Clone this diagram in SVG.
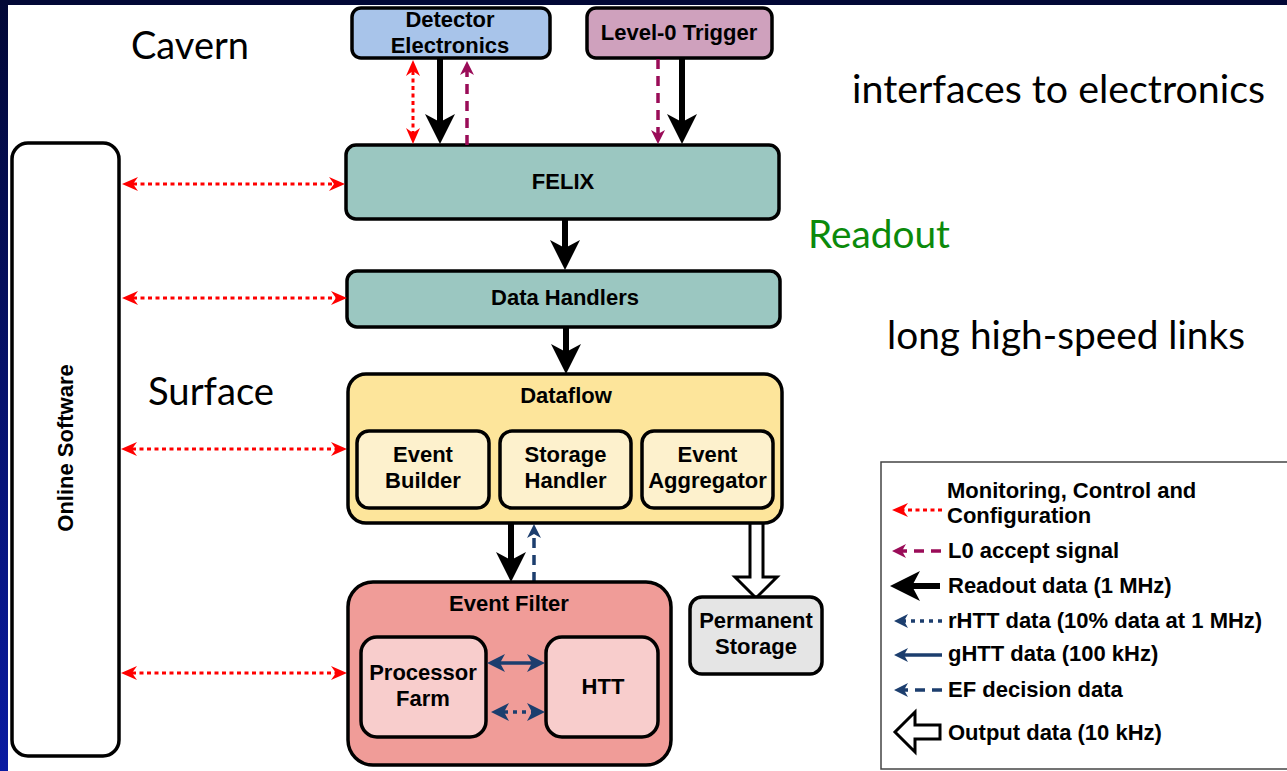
<svg xmlns="http://www.w3.org/2000/svg" width="1287" height="771" viewBox="0 0 1287 771">
<style>
.box{stroke:#000;stroke-width:3.5}
.lbl{font-family:"Liberation Sans",Arial,Helvetica,sans-serif;font-weight:bold;font-size:22px;fill:#000;text-anchor:middle}
.leg{font-family:"Liberation Sans",Arial,Helvetica,sans-serif;font-weight:bold;font-size:22px;fill:#000}
.big{font-family:Lato,"Open Sans",sans-serif;font-size:39px;fill:#000}
.red{stroke:#ff0000;stroke-width:3;stroke-dasharray:4 3.5;fill:none}
.pur{stroke:#9a0c58;stroke-width:3.5;stroke-dasharray:10 7;fill:none}
.blk{stroke:#000;stroke-width:6;fill:none}
.nav{stroke:#1c3e6e;stroke-width:3.5;fill:none}
.navdash{stroke:#1c3e6e;stroke-width:3.5;stroke-dasharray:10 7;fill:none}
.navdot{stroke:#1c3e6e;stroke-width:3.5;stroke-dasharray:4 5;fill:none}
</style>
<defs>
<linearGradient id="band" x1="0" y1="0" x2="0" y2="1">
<stop offset="0" stop-color="#020836"/>
<stop offset="1" stop-color="#0a1ba2"/>
</linearGradient>
<marker id="hBlack" viewBox="0 0 30 30" refX="8" refY="15" markerWidth="30" markerHeight="30" markerUnits="userSpaceOnUse" orient="auto"><path d="M0,0 L30,15 L0,30 L8,15 z" fill="#000"/></marker>
<marker id="hRed" viewBox="0 0 16 14" refX="5" refY="7" markerWidth="16" markerHeight="14" markerUnits="userSpaceOnUse" orient="auto-start-reverse"><path d="M0,0 L16,7 L0,14 L5,7 z" fill="#ff0000"/></marker>
<marker id="hPur" viewBox="0 0 14 14" refX="4" refY="7" markerWidth="14" markerHeight="14" markerUnits="userSpaceOnUse" orient="auto"><path d="M0,0 L14,7 L0,14 L4,7 z" fill="#9a0c58"/></marker>
<marker id="hNavy" viewBox="0 0 18 18" refX="5" refY="9" markerWidth="18" markerHeight="18" markerUnits="userSpaceOnUse" orient="auto-start-reverse"><path d="M0,0 L18,9 L0,18 L5,9 z" fill="#1c3e6e"/></marker>
<marker id="hNavyS" viewBox="0 0 14 14" refX="4" refY="7" markerWidth="14" markerHeight="14" markerUnits="userSpaceOnUse" orient="auto"><path d="M0,0 L14,7 L0,14 L4,7 z" fill="#1c3e6e"/></marker>
</defs>

<rect x="0" y="0" width="1287" height="771" fill="#fff"/>
<rect x="0" y="0" width="1287" height="5" fill="#020836"/>
<rect x="0" y="0" width="8" height="771" fill="url(#band)"/>

<g id="region-labels">
<text class="big" x="131" y="59" textLength="118" lengthAdjust="spacingAndGlyphs">Cavern</text>
<text class="big" x="852" y="103" textLength="413" lengthAdjust="spacingAndGlyphs">interfaces to electronics</text>
<text class="big" x="808" y="248" textLength="142" lengthAdjust="spacingAndGlyphs" style="fill:#0b8a0b">Readout</text>
<text class="big" x="887" y="349" textLength="358" lengthAdjust="spacingAndGlyphs">long high-speed links</text>
<text class="big" x="148" y="405" textLength="126" lengthAdjust="spacingAndGlyphs">Surface</text>
</g>

<g id="online-software">
<rect class="box" x="12" y="143" width="107" height="613" rx="16" fill="#fff"/>
<text class="lbl" transform="translate(73,448) rotate(-90)">Online Software</text>
</g>

<g id="detector-electronics">
<rect class="box" x="352" y="8" width="198" height="50" rx="9" fill="#a8c4ea"/>
<text class="lbl" x="450" y="27">Detector</text>
<text class="lbl" x="450" y="53">Electronics</text>
</g>

<g id="level0-trigger">
<rect class="box" x="587" y="8" width="185" height="50" rx="9" fill="#cfa1bd"/>
<text class="lbl" x="679" y="40">Level-0 Trigger</text>
</g>

<g id="felix">
<rect class="box" x="346" y="145" width="433" height="74" rx="10" fill="#9bc7c1"/>
<text class="lbl" x="563" y="189">FELIX</text>
</g>

<g id="data-handlers">
<rect class="box" x="347" y="271" width="433" height="56" rx="10" fill="#9bc7c1"/>
<text class="lbl" x="565" y="305">Data Handlers</text>
</g>

<g id="connectors">
<line class="red" x1="413" y1="71" x2="413" y2="133" marker-start="url(#hRed)" marker-end="url(#hRed)"/>
<line class="blk" x1="440" y1="59" x2="440" y2="122" marker-end="url(#hBlack)"/>
<line class="pur" x1="467" y1="145" x2="467" y2="71" marker-end="url(#hPur)"/>
<line class="pur" x1="658" y1="59" x2="658" y2="134" marker-end="url(#hPur)"/>
<line class="blk" x1="682" y1="59" x2="682" y2="122" marker-end="url(#hBlack)"/>
<line class="blk" x1="565" y1="219" x2="565" y2="248" marker-end="url(#hBlack)"/>
<line class="blk" x1="566" y1="327" x2="566" y2="352" marker-end="url(#hBlack)"/>
<line class="blk" x1="511" y1="523" x2="511" y2="560" marker-end="url(#hBlack)"/>
<line class="navdash" x1="534" y1="582" x2="534" y2="534" marker-end="url(#hNavyS)"/>
<line class="red" x1="133" y1="184" x2="334" y2="184" marker-start="url(#hRed)" marker-end="url(#hRed)"/>
<line class="red" x1="133" y1="298" x2="336" y2="298" marker-start="url(#hRed)" marker-end="url(#hRed)"/>
<line class="red" x1="132" y1="449" x2="336" y2="449" marker-start="url(#hRed)" marker-end="url(#hRed)"/>
<line class="red" x1="132" y1="673" x2="336" y2="673" marker-start="url(#hRed)" marker-end="url(#hRed)"/>
<path d="M750,522 V577 H735 L756,598 L777,577 H763 V522" fill="#fff" stroke="#000" stroke-width="3" stroke-linejoin="miter"/>
</g>

<g id="dataflow">
<rect class="box" x="348" y="374" width="434" height="149" rx="18" fill="#fde59b"/>
<text class="lbl" x="566" y="403">Dataflow</text>
</g>
<g id="event-builder">
<rect class="box" x="357" y="431" width="132" height="77" rx="12" fill="#fdf1cd"/>
<text class="lbl" x="423" y="462">Event</text>
<text class="lbl" x="423" y="488">Builder</text>
</g>
<g id="storage-handler">
<rect class="box" x="500" y="431" width="131" height="77" rx="12" fill="#fdf1cd"/>
<text class="lbl" x="565.5" y="462">Storage</text>
<text class="lbl" x="565.5" y="488">Handler</text>
</g>
<g id="event-aggregator">
<rect class="box" x="642" y="431" width="131" height="77" rx="12" fill="#fdf1cd"/>
<text class="lbl" x="707.5" y="462">Event</text>
<text class="lbl" x="707.5" y="488">Aggregator</text>
</g>

<g id="event-filter">
<rect class="box" x="348" y="582" width="323" height="183" rx="25" fill="#f09c98"/>
<text class="lbl" x="509" y="611">Event Filter</text>
</g>
<g id="processor-farm">
<rect class="box" x="361" y="637" width="125" height="100" rx="16" fill="#f8cdcc"/>
<text class="lbl" x="423" y="680">Processor</text>
<text class="lbl" x="423" y="706">Farm</text>
</g>
<g id="htt">
<rect class="box" x="546" y="637" width="112" height="100" rx="16" fill="#f8cdcc"/>
<text class="lbl" x="603" y="694">HTT</text>
</g>
<g id="ef-connectors">
<line class="nav" x1="500" y1="663" x2="532" y2="663" marker-start="url(#hNavy)" marker-end="url(#hNavy)"/>
<line class="navdot" x1="504" y1="712" x2="532" y2="712" marker-start="url(#hNavy)" marker-end="url(#hNavy)"/>
</g>

<g id="permanent-storage">
<rect class="box" x="690" y="597" width="132" height="77" rx="12" fill="#e5e5e5"/>
<text class="lbl" x="756" y="628">Permanent</text>
<text class="lbl" x="756" y="654">Storage</text>
</g>

<g id="legend">
<rect x="881" y="462" width="420" height="307" fill="#fff" stroke="#444" stroke-width="1.5"/>
<line class="red" x1="942" y1="510" x2="903" y2="510" marker-end="url(#hRed)"/>
<text class="leg" x="947" y="498">Monitoring, Control and</text>
<text class="leg" x="947" y="523">Configuration</text>
<line class="pur" x1="941" y1="551" x2="902" y2="551" marker-end="url(#hPur)"/>
<text class="leg" x="948" y="558">L0 accept signal</text>
<line class="blk" x1="940" y1="586" x2="912" y2="586" marker-end="url(#hBlack)"/>
<text class="leg" x="948" y="593">Readout data (1 MHz)</text>
<line class="navdot" x1="942" y1="621" x2="904" y2="621" marker-end="url(#hNavyS)"/>
<text class="leg" x="948" y="628">rHTT data (10% data at 1 MHz)</text>
<line class="nav" x1="942" y1="655" x2="904" y2="655" marker-end="url(#hNavyS)"/>
<text class="leg" x="948" y="661">gHTT data (100 kHz)</text>
<line class="navdash" x1="942" y1="690" x2="904" y2="690" marker-end="url(#hNavyS)"/>
<text class="leg" x="948" y="697">EF decision data</text>
<path d="M940,725 H915 V712 L895,732 L915,752 V739 H940 Z" fill="#fff" stroke="#000" stroke-width="3"/>
<text class="leg" x="948" y="740">Output data (10 kHz)</text>
</g>
</svg>
